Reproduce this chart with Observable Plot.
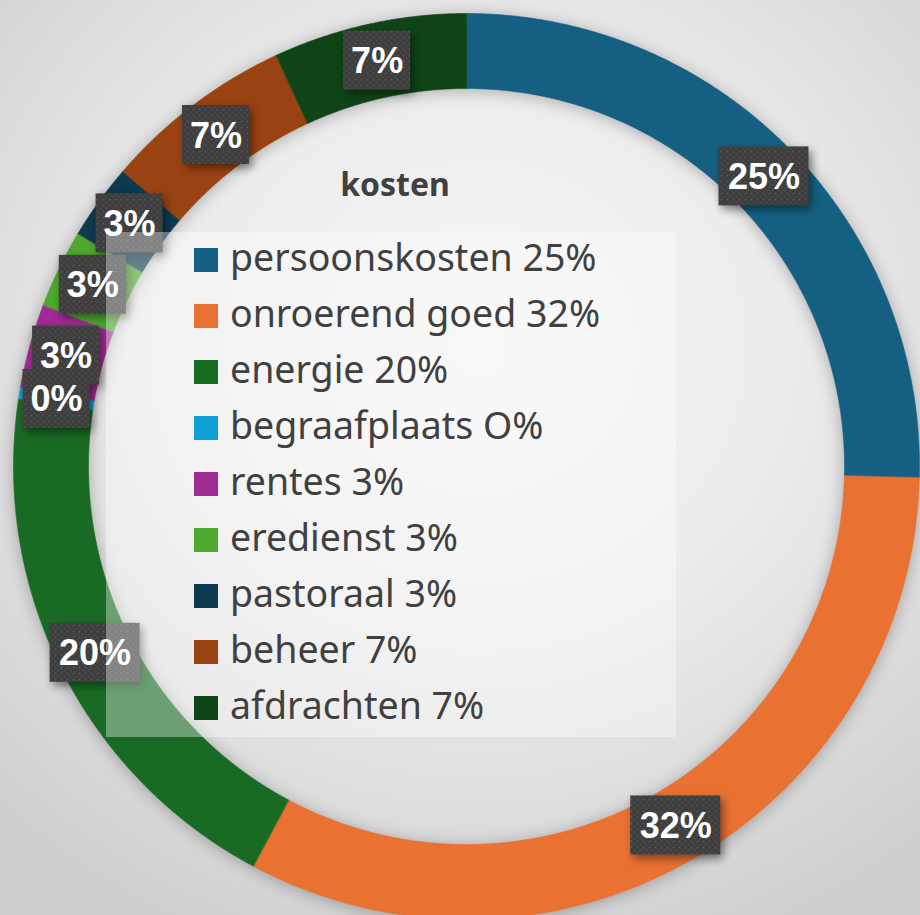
<!DOCTYPE html>
<html>
<head>
<meta charset="utf-8">
<script src="https://cdn.jsdelivr.net/npm/d3@7"></script>
<script src="https://cdn.jsdelivr.net/npm/@observablehq/plot@0.6"></script>
<style>
  html, body { margin: 0; padding: 0; }
  body {
    width: 920px; height: 915px; overflow: hidden;
    background: radial-gradient(ellipse 75% 70% at 52% 38%, #f6f6f6 0%, #ececec 45%, #dadada 80%, #cfcfcf 100%);
    font-family: "Noto Sans", "Open Sans", sans-serif;
  }
  #wrap { position: relative; width: 920px; height: 915px; }
  #chart svg { display: block; background: transparent; }
  #title {
    position: absolute; left: 295px; width: 200px; top: 168px;
    text-align: center; font-weight: bold; font-size: 32px; line-height: 32px; color: #404040;
  }
  #legend {
    position: absolute; left: 106px; top: 232px; width: 570px; height: 505px;
    background: rgba(255,255,255,0.36);
  }
  .row { position: absolute; left: 0; height: 56px; line-height: 56px; white-space: nowrap; }
  .sw { position: absolute; left: 88px; top: 16px; width: 24px; height: 24px; }
  .lt { position: absolute; left: 124px; top: -3px; font-size: 37.5px; color: #404040; }
</style>
</head>
<body>
<div id="wrap">
  <div id="chart"></div>
  <div id="title">kosten</div>
  <div id="legend"></div>
</div>
<script>
// ---- data ----
const categories = ["persoonskosten", "onroerend goed", "energie", "begraafplaats", "rentes", "eredienst", "pastoraal", "beheer", "afdrachten"];
const values = [25.4, 32.4, 19.6, 0.4, 3.0, 2.8, 2.7, 6.8, 6.9];
const dataLabels = ["25%", "32%", "20%", "0%", "3%", "3%", "3%", "7%", "7%"];
const legendLabels = ["persoonskosten 25%", "onroerend goed 32%", "energie 20%", "begraafplaats O%", "rentes 3%", "eredienst 3%", "pastoraal 3%", "beheer 7%", "afdrachten 7%"];
const colors = ["#156082", "#E97132", "#196B24", "#0F9ED5", "#A02B93", "#4EA72E", "#0D3A4E", "#9A4312", "#0F4516"];

// ---- layout ----
const W = 920, H = 915;
const CX = 466, CY = 466, R = 453;       // pixel centre and outer radius
const inner = 378 / R;                   // inner radius in unit coords
const midR = (1 + inner) / 2;

const arcs = d3.pie().sort(null).value(d => d)(values);

// ring polygons (unit coordinates, y up, angle clockwise from 12 o'clock)
const ringPts = [];
arcs.forEach((a, i) => {
  const n = Math.max(2, Math.ceil((a.endAngle - a.startAngle) / 0.005));
  const key = categories[i];
  for (let k = 0; k <= n; k++) {
    const t = a.startAngle + (a.endAngle - a.startAngle) * k / n;
    ringPts.push({key, x: Math.sin(t), y: Math.cos(t)});
  }
  for (let k = n; k >= 0; k--) {
    const t = a.startAngle + (a.endAngle - a.startAngle) * k / n;
    ringPts.push({key, x: inner * Math.sin(t), y: inner * Math.cos(t)});
  }
});

// label boxes
const labelRows = arcs.map((a, i) => {
  const m = (a.startAngle + a.endAngle) / 2;
  const x = midR * Math.sin(m), y = midR * Math.cos(m);
  const txt = dataLabels[i];
  const hw = (23 * txt.length + 21) / 2 / R, hh = 29.5 / R;
  return {key: categories[i], text: txt, x, y, x1: x - hw, x2: x + hw, y1: y - hh, y2: y + hh};
});

const plot = Plot.plot({
  width: W, height: H,
  margin: 0,
  x: {domain: [-CX / R, (W - CX) / R], axis: null},
  y: {domain: [-(H - CY) / R, CY / R], axis: null},
  color: {domain: categories, range: colors},
  style: {background: "transparent", overflow: "visible"},
  marks: [
    Plot.line(ringPts, {x: "x", y: "y", z: "key", fill: "key", stroke: "key", strokeWidth: 0.6, curve: "linear-closed"}),
    Plot.rect(labelRows, {x1: "x1", x2: "x2", y1: "y1", y2: "y2", fill: "#404040"}),
    Plot.text(labelRows, {x: "x", y: "y", text: "text", fill: "white", fontSize: 36, fontWeight: "bold", fontFamily: "Liberation Sans, Arial, sans-serif", dy: 1})
  ]
});
document.getElementById("chart").appendChild(plot);

// dotted texture on the label boxes
const ns = "http://www.w3.org/2000/svg";
const defs = document.createElementNS(ns, "defs");
defs.innerHTML = '<pattern id="dots" width="6" height="6" patternUnits="userSpaceOnUse">' +
  '<rect width="6" height="6" fill="#3e3e3e"/><circle cx="1.5" cy="1.5" r="0.9" fill="#575757"/>' +
  '<circle cx="4.5" cy="4.5" r="0.9" fill="#4c4c4c"/></pattern>';
plot.insertBefore(defs, plot.firstChild);
plot.querySelectorAll('g[aria-label="rect"] rect').forEach(r => r.setAttribute("fill", "url(#dots)"));

// soft shadows like the original
plot.querySelectorAll('g[aria-label="line"]').forEach(g => g.style.filter = "drop-shadow(0px 2px 8px rgba(0,0,0,0.28))");
plot.querySelectorAll('g[aria-label="rect"]').forEach(g => g.style.filter = "drop-shadow(3px 4px 4px rgba(0,0,0,0.45))");

// legend (overlaid, semi-transparent like the original)
const legend = document.getElementById("legend");
legendLabels.forEach((lab, i) => {
  const row = document.createElement("div");
  row.className = "row";
  row.style.top = (i * 56) + "px";
  const sw = document.createElement("div");
  sw.className = "sw";
  sw.style.background = colors[i];
  const t = document.createElement("div");
  t.className = "lt";
  t.textContent = lab;
  row.appendChild(sw); row.appendChild(t);
  legend.appendChild(row);
});
</script>
</body>
</html>
